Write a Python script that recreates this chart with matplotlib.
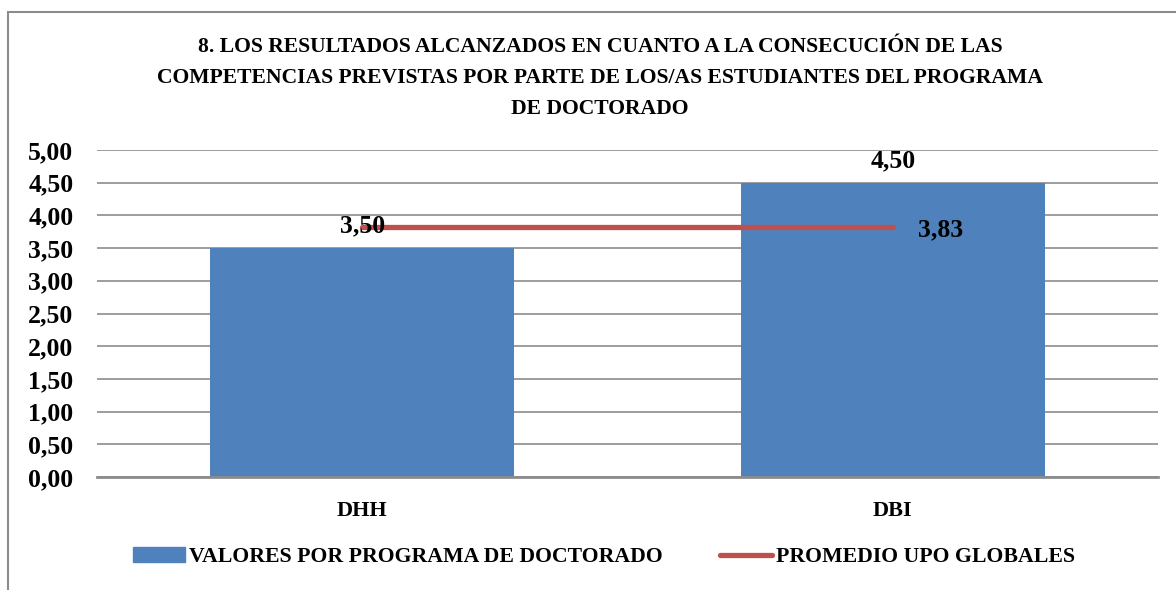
import numpy as np
import matplotlib.pyplot as plt
from matplotlib.patches import Rectangle, Patch
from matplotlib.lines import Line2D

# data
programas = ["DHH", "DBI"]
valores = [3.50, 4.50]
promedio = 3.83
titulo = ("8. LOS RESULTADOS ALCANZADOS EN CUANTO A LA CONSECUCIÓN DE LAS\n"
          "COMPETENCIAS PREVISTAS POR PARTE DE LOS/AS ESTUDIANTES DEL PROGRAMA\n"
          "DE DOCTORADO")
leyenda = ["VALORES POR PROGRAMA DE DOCTORADO", "PROMEDIO UPO GLOBALES"]

azul = "#4F81BD"
rojo = "#C0504D"
gris = "#8C8C8C"

plt.rcParams['font.family'] = ['Liberation Serif', 'DejaVu Serif']
plt.rcParams['font.weight'] = 'bold'

fig = plt.figure(figsize=(11.76, 5.90), dpi=100)
ax = fig.add_axes([97/1176, 1-477/590, (1158-97)/1176, (477-150)/590])

# outer frame of the chart (only left and top visible)
fig.patches.append(Rectangle((8/1176, -0.2), 1.2, 1-12/590+0.2, transform=fig.transFigure,
                             fill=False, edgecolor=gris, lw=1.5, zorder=0))

x = np.arange(len(programas))
ax.bar(x, valores, width=0.573, color=azul, zorder=2)
ax.plot(x, [promedio]*len(x), color=rojo, lw=3.8, solid_capstyle='round', zorder=3)

for xi, v in zip(x, valores):
    ax.annotate("{:.2f}".format(v).replace(".", ","), (xi, v), xytext=(0, 22),
                textcoords='offset pixels', ha='center', va='center',
                fontsize=18.5, fontweight='bold', zorder=4)
ax.annotate("{:.2f}".format(promedio).replace(".", ","), (x[-1], promedio), xytext=(48, -3),
            textcoords='offset pixels', ha='center', va='center',
            fontsize=18.5, fontweight='bold', zorder=4)

ax.set_xlim(-0.5, 1.5)
ax.set_ylim(0, 5)
ax.set_yticks(np.arange(0, 5.01, 0.5))
ax.set_yticklabels(["{:.2f}".format(t).replace(".", ",") for t in np.arange(0, 5.01, 0.5)],
                   fontsize=18.5, fontweight='bold')
ax.set_xticks(x)
ax.set_xticklabels(programas, fontsize=16, fontweight='bold')
ax.tick_params(axis='both', length=0)
ax.tick_params(axis='y', pad=17)
ax.tick_params(axis='x', pad=17)
ax.grid(axis='y', color=gris, lw=1.2, zorder=1)
ax.set_axisbelow(True)
for s in ['top', 'right', 'left']:
    ax.spines[s].set_visible(False)
ax.spines['bottom'].set_color(gris)
ax.spines['bottom'].set_linewidth(2)
ax.spines['bottom'].set_zorder(2.5)

fig.text(600/1176, 1-78/590, titulo, ha='center', va='center', fontsize=15.6,
         fontweight='bold', linespacing=1.7)

handles = [Patch(color=azul), Line2D([0], [0], color=rojo, lw=3.8, solid_capstyle='round')]
fig.legend(handles, leyenda, loc='center', bbox_to_anchor=(604/1176, 1-557/590), ncol=2,
           frameon=False, prop={'size': 15.7, 'weight': 'bold'}, handlelength=2.4,
           handletextpad=0.2, columnspacing=2.6, handleheight=0.7)

plt.savefig("out.png", dpi=100)
